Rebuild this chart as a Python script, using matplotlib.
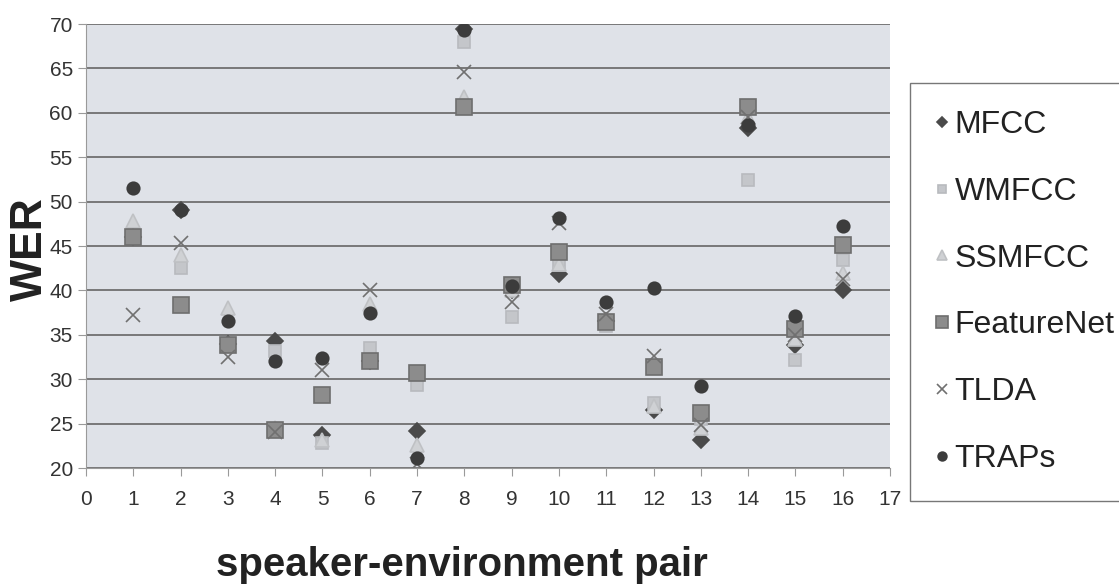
import numpy as np
import matplotlib
matplotlib.use("Agg")
import matplotlib.pyplot as plt

plt.rcParams['font.family'] = ['Liberation Sans', 'DejaVu Sans']

pairs = list(range(1, 17))

# WER per speaker-environment pair
mfcc = [46, 49, 34, 34.3, 23.7, 32, 24.2, 69.4, 40, 41.8, 36.5, 26.5, 23.2, 58.3, 33.8, 40]
wmfcc = [46, 42.5, 34, 33.2, 22.8, 33.5, 29.3, 68, 37, 42.9, 36, 27.3, 25.5, 52.4, 32.2, 43.4]
ssmfcc = [47.8, 44, 38, 24.5, 23.2, 38.5, 22.6, 61.8, 40, 43, 36.5, 27, 24.5, 59.5, 34.5, 42]
featurenet = [46, 38.4, 33.9, 24.3, 28.2, 32, 30.7, 60.6, 40.6, 44.3, 36.4, 31.4, 26.2, 60.6, 35.7, 45.1]
tlda = [37.2, 45.3, 32.5, 24, 31, 40, 20.5, 64.6, 38.7, 47.6, 37.3, 32.6, 24.8, 59.5, 35, 41.3]
traps = [51.5, 49, 36.5, 32.1, 32.4, 37.4, 21.1, 69.3, 40.5, 48.2, 38.7, 40.3, 29.2, 58.6, 37.1, 47.3]

series = [
    ("MFCC", mfcc, "D", 8, "#4a4a4a", "#4a4a4a"),
    ("WMFCC", wmfcc, "s", 9, "#c4c6ca", "#b8babe"),
    ("SSMFCC", ssmfcc, "^", 10, "#cfd1d4", "#bfc1c4"),
    ("FeatureNet", featurenet, "s", 12, "#8c8c8c", "#6e6e6e"),
    ("TLDA", tlda, "x", 10, "#707070", "#707070"),
    ("TRAPs", traps, "o", 9, "#3c3c3c", "#3c3c3c"),
]

fig = plt.figure(figsize=(11.19, 5.87), dpi=100)
ax = fig.add_axes([86/1119, 1 - 468/587, (890 - 86)/1119, (468 - 24)/587])
ax.set_facecolor("#dfe2e8")

for name, vals, mk, ms, fc, ec in series:
    ax.plot(pairs, vals, linestyle="none", marker=mk, markersize=ms,
            markerfacecolor=fc, markeredgecolor=ec, markeredgewidth=1.2,
            label=name)

ax.set_xlim(0, 17)
ax.set_ylim(20, 70)
ax.set_xticks(range(0, 18))
ax.set_yticks(range(20, 75, 5))
ax.yaxis.grid(True, color="#666666", linewidth=1.2)
ax.set_axisbelow(True)

for s in ["top", "right"]:
    ax.spines[s].set_visible(False)
ax.spines["left"].set_color("#9a9a9a")
ax.spines["bottom"].set_color("#9a9a9a")
ax.tick_params(axis="both", labelsize=15, colors="#9a9a9a", labelcolor="#333333",
               length=6, direction="out")
ax.tick_params(axis="x", pad=10)

ax.set_ylabel("WER", fontsize=32, fontweight="bold", color="#222222")
ax.yaxis.set_label_coords(-0.0697, 0.493)
ax.yaxis.label.set_verticalalignment("center")
ax.set_xlabel("speaker-environment pair", fontsize=29, fontweight="bold",
              color="#222222")
ax.xaxis.set_label_coords(0.468, -0.218)
ax.xaxis.label.set_verticalalignment("center")

leg = fig.legend(loc="upper left", bbox_to_anchor=(910/1119, 1 - 83/587),
                 fontsize=23, frameon=True, fancybox=False, edgecolor="#555555",
                 labelspacing=1.15, borderpad=0.85, handletextpad=0.25,
                 handlelength=0.3, markerscale=0.7, borderaxespad=0)
leg.get_frame().set_linewidth(1.0)
for t in leg.get_texts():
    t.set_color("#222222")

fig.savefig("out.png", dpi=100)
